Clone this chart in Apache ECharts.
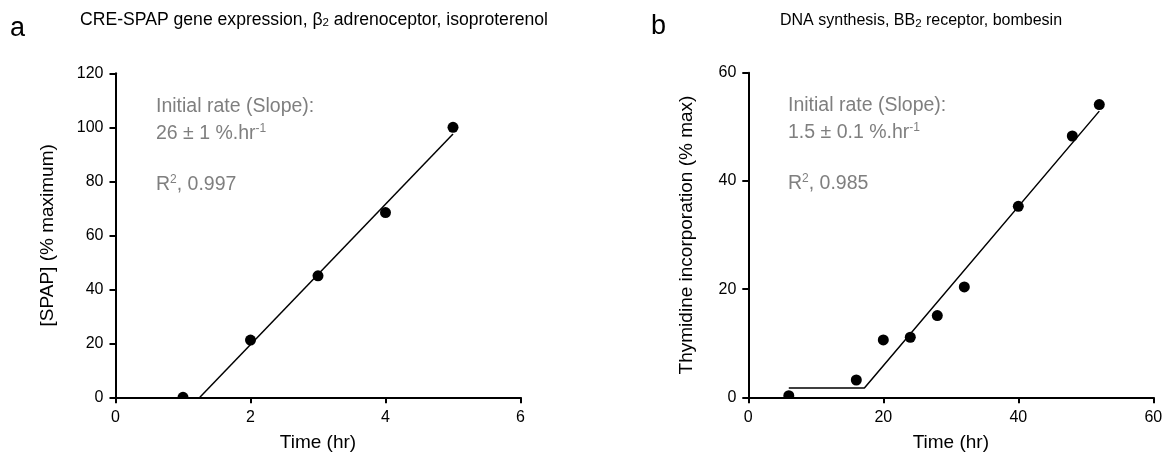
<!DOCTYPE html>
<html>
<head>
<meta charset="utf-8">
<script src="https://cdn.jsdelivr.net/npm/echarts@6/dist/echarts.min.js"></script>
<style>
  html, body { margin: 0; padding: 0; background: #fff; }
  #chart { width: 1165px; height: 456px; }
</style>
</head>
<body>
<div id="chart"></div>
<script>
// panel a: CRE-SPAP
var timeA = [1, 2, 3, 4, 5]
var spapA = [0, 21.2, 45, 68.4, 100]
var fitTimeA = [1.25, 5]
var fitSpapA = [0, 97.5]
var xTicksA = [0, 2, 4, 6]
var yTicksA = [0, 20, 40, 60, 80, 100, 120]

// panel b: DNA synthesis
var timeB = [6, 16, 20, 24, 28, 32, 40, 48, 52]
var thymidineB = [0.3, 3.2, 10.6, 11.1, 15.1, 20.4, 35.3, 48.3, 54.1]
var fitTimeB = [6, 17.2, 52]
var fitThymidineB = [1.7, 1.7, 52.9]
var xTicksB = [0, 20, 40, 60]
var yTicksB = [0, 20, 40, 60]

var FONT = 'Liberation Sans, Arial, sans-serif'
var GREY = '#7f7f7f'

function pairs(xs, ys) {
  return xs.map(function (x, i) { return [x, ys[i]] })
}

function axis(ticks, gridIndex, name, nameGap, rotate) {
  return {
    type: 'value',
    gridIndex: gridIndex,
    min: ticks[0],
    max: ticks[ticks.length - 1],
    interval: ticks[1] - ticks[0],
    name: name,
    nameLocation: 'middle',
    nameGap: nameGap,
    nameRotate: rotate,
    nameTextStyle: { color: '#000', fontSize: 19, fontFamily: FONT },
    z: 5,
    axisLine: { show: true, onZero: false, lineStyle: { color: '#000', width: 2 } },
    axisTick: { show: true, inside: false, length: 6, lineStyle: { color: '#000', width: 2 } },
    axisLabel: { color: '#000', fontSize: 16, fontFamily: FONT, margin: 12, showMinLabel: true, showMaxLabel: true },
    splitLine: { show: false }
  }
}

function note(x, y, text) {
  return {
    type: 'text', x: x, y: y, z: 10,
    style: {
      text: text, fill: GREY, font: '19.5px ' + FONT, verticalAlign: 'top',
      rich: { sup: { fontSize: 12, fontFamily: FONT, fill: GREY, verticalAlign: 'top', padding: [0, 0, 9, 0] } }
    }
  }
}

function heading(x, y, size, text) {
  return {
    type: 'text', x: x, y: y, z: 10,
    style: {
      text: text, fill: '#000', font: size + 'px ' + FONT, verticalAlign: 'top',
      rich: { sub: { fontSize: 11.5, fontFamily: FONT, fill: '#000', verticalAlign: 'bottom', padding: [6, 0, 0, 0] } }
    }
  }
}

var chart = echarts.init(document.getElementById('chart'))
var option = {
  backgroundColor: '#fff',
  animation: false,
  grid: [
    { left: 115.5, top: 73.3, width: 405, height: 324, outerBoundsMode: 'none', containLabel: false },
    { left: 748.3, top: 72.7, width: 405, height: 324.6, outerBoundsMode: 'none', containLabel: false }
  ],
  xAxis: [
    axis(xTicksA, 0, 'Time (hr)', 36, 0),
    axis(xTicksB, 1, 'Time (hr)', 36, 0)
  ],
  yAxis: [
    axis(yTicksA, 0, '[SPAP] (% maximum)', 58, 90),
    axis(yTicksB, 1, 'Thymidine incorporation (% max)', 52, 90)
  ],
  graphic: [
    // white band under the x axes so points at 0 show as half dots
    { type: 'rect', z: 3, shape: { x: 117, y: 398.5, width: 404, height: 8 }, style: { fill: '#fff' } },
    { type: 'rect', z: 3, shape: { x: 750, y: 398.5, width: 404, height: 8 }, style: { fill: '#fff' } },
    { type: 'text', x: 10, y: 15, style: { text: 'a', fill: '#000', font: '27px ' + FONT } },
    { type: 'text', x: 651, y: 13, style: { text: 'b', fill: '#000', font: '27px ' + FONT } },
    heading(80, 11, 17.6, 'CRE-SPAP gene expression, β{sub|2} adrenoceptor, isoproterenol'),
    heading(780, 12, 16, 'DNA synthesis, BB{sub|2} receptor, bombesin'),
    note(156, 97, 'Initial rate (Slope):'),
    note(156, 123, '26 ± 1 %.hr{sup|-1}'),
    note(156, 174, 'R{sup|2}, 0.997'),
    note(788, 96, 'Initial rate (Slope):'),
    note(788, 122, '1.5 ± 0.1 %.hr{sup|-1}'),
    note(788, 173, 'R{sup|2}, 0.985')
  ],
  series: [
    {
      type: 'line', xAxisIndex: 0, yAxisIndex: 0,
      data: pairs(fitTimeA, fitSpapA),
      showSymbol: false, symbol: 'none',
      lineStyle: { color: '#000', width: 1.5 }, z: 2
    },
    {
      type: 'scatter', xAxisIndex: 0, yAxisIndex: 0,
      data: pairs(timeA, spapA),
      symbolSize: 11, itemStyle: { color: '#000', opacity: 1 }, z: 2
    },
    {
      type: 'line', xAxisIndex: 1, yAxisIndex: 1,
      data: pairs(fitTimeB, fitThymidineB),
      showSymbol: false, symbol: 'none',
      lineStyle: { color: '#000', width: 1.5 }, z: 2
    },
    {
      type: 'scatter', xAxisIndex: 1, yAxisIndex: 1,
      data: pairs(timeB, thymidineB),
      symbolSize: 11, itemStyle: { color: '#000', opacity: 1 }, z: 2
    }
  ]
}
chart.setOption(option)
</script>
</body>
</html>
